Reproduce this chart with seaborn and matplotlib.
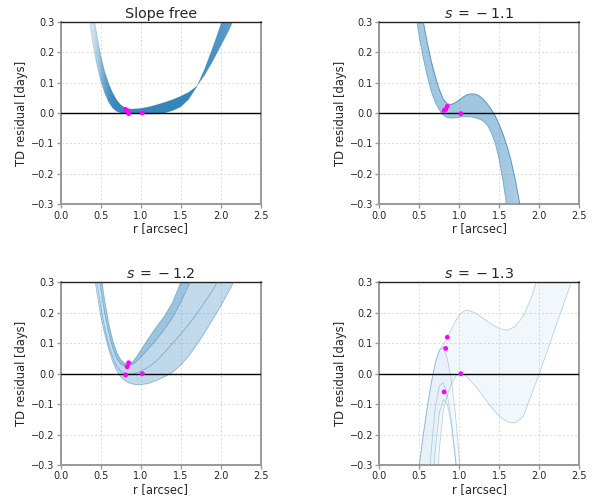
import numpy as np
import pandas as pd
import matplotlib
matplotlib.use("Agg")
import matplotlib.pyplot as plt
from matplotlib.colors import to_rgb
import seaborn as sns

# ---------------- data ----------------
titles = ["Slope free", r"$s\:=\:-\;1.1$", r"$s\:=\:-\;1.2$", r"$s\:=\:-\;1.3$"]
x_ticks = [0.0, 0.5, 1.0, 1.5, 2.0, 2.5]
y_ticks = [-0.3, -0.2, -0.1, 0.0, 0.1, 0.2, 0.3]

# image radii and their TD residuals (magenta points)
img_r = [0.81, 0.83, 0.85, 1.02]
res_free = [0.012, 0.008, -0.002, 0.0]
res_11 = [0.008, 0.012, 0.022, -0.002]
res_12 = [-0.004, 0.023, 0.036, 0.0]
res_13 = [-0.06, 0.083, 0.12, 0.0]

# panel 1: slope free - band edges
r_free = [0.35, 0.4, 0.45, 0.5, 0.55, 0.6, 0.65, 0.7, 0.75, 0.8, 0.85, 0.9, 1.0,
          1.1, 1.2, 1.3, 1.4, 1.5, 1.6, 1.7, 1.8, 1.9, 2.0, 2.1, 2.2]
free_lo = [0.32, 0.23, 0.16, 0.105, 0.065, 0.035, 0.016, 0.005, 0.0, -0.002,
           -0.003, -0.003, -0.003, -0.003, -0.003, 0.0, 0.008, 0.02, 0.045, 0.086,
           0.145, 0.215, 0.29, 0.38, 0.48]
free_hi = [0.45, 0.34, 0.26, 0.19, 0.137, 0.097, 0.066, 0.043, 0.027, 0.018,
           0.014, 0.013, 0.015, 0.02, 0.027, 0.035, 0.044, 0.055, 0.068, 0.088,
           0.125, 0.17, 0.22, 0.27, 0.33]

# panel 2: s = -1.1
r_11 = [0.4, 0.45, 0.5, 0.55, 0.6, 0.65, 0.7, 0.75, 0.8, 0.85, 0.9, 0.95, 1.0,
        1.05, 1.1, 1.15, 1.2, 1.25, 1.3, 1.35, 1.4, 1.45, 1.5, 1.55, 1.6, 1.65,
        1.7, 1.75, 1.8]
s11_hi = [0.55, 0.47, 0.39, 0.30, 0.23, 0.17, 0.12, 0.077, 0.045, 0.03, 0.028,
          0.034, 0.043, 0.053, 0.06, 0.063, 0.062, 0.056, 0.045, 0.03, 0.012,
          -0.01, -0.038, -0.072, -0.112, -0.16, -0.22, -0.29, -0.37]
s11_lo = [0.40, 0.33, 0.25, 0.18, 0.12, 0.07, 0.035, 0.01, -0.007, -0.015, -0.017,
          -0.016, -0.014, -0.012, -0.012, -0.013, -0.016, -0.02, -0.027, -0.04,
          -0.065, -0.1, -0.155, -0.23, -0.32, -0.43, -0.55, -0.7, -0.85]

# panel 3: s = -1.2
r_12 = [0.35, 0.4, 0.45, 0.5, 0.55, 0.6, 0.65, 0.7, 0.75, 0.8, 0.85, 0.9, 0.95,
        1.0, 1.1, 1.2, 1.3, 1.4, 1.5, 1.6, 1.7, 1.8, 1.9, 2.0, 2.1, 2.2]
s12_a = [0.75, 0.6, 0.45, 0.33, 0.24, 0.165, 0.11, 0.07, 0.046, 0.034, 0.031,
         0.039, 0.056, 0.077, 0.117, 0.155, 0.19, 0.235, 0.30, 0.37, 0.45, 0.53,
         0.62, 0.72, 0.82, 0.93]
s12_c = [0.65, 0.5, 0.38, 0.28, 0.2, 0.135, 0.085, 0.05, 0.032, 0.026, 0.026,
         0.031, 0.041, 0.054, 0.083, 0.113, 0.147, 0.185, 0.235, 0.29, 0.35, 0.42,
         0.50, 0.58, 0.67, 0.77]
s12_d = [0.55, 0.42, 0.31, 0.22, 0.15, 0.095, 0.055, 0.025, 0.008, 0.0, -0.002,
         -0.001, 0.003, 0.008, 0.022, 0.043, 0.07, 0.10, 0.13, 0.162, 0.197, 0.235,
         0.275, 0.32, 0.37, 0.42]
s12_b = [0.5, 0.37, 0.27, 0.19, 0.13, 0.08, 0.04, 0.01, -0.01, -0.022, -0.03,
         -0.034, -0.036, -0.036, -0.032, -0.022, -0.01, 0.005, 0.028, 0.058, 0.095,
         0.135, 0.178, 0.222, 0.27, 0.32]

# panel 4: s = -1.3
r_13 = [0.5, 0.55, 0.6, 0.65, 0.7, 0.75, 0.8, 0.85, 0.9, 0.95, 1.0, 1.05, 1.1, 1.2,
        1.3, 1.4, 1.5, 1.6, 1.7, 1.8, 1.9, 2.0, 2.1, 2.2, 2.3, 2.4, 2.5]
s13_up = [-0.3, -0.2, -0.11, -0.03, 0.035, 0.075, 0.095, 0.118, 0.145, 0.172,
          0.193, 0.205, 0.209, 0.2, 0.182, 0.163, 0.148, 0.143, 0.155, 0.19, 0.25,
          0.33, 0.42, 0.52, 0.63, 0.75, 0.88]
s13_lo = [-1.2, -1.0, -0.85, -0.7, -0.45, -0.25, -0.12, -0.07, -0.035, -0.01, 0.0,
          -0.003, -0.012, -0.04, -0.075, -0.11, -0.14, -0.158, -0.162, -0.14, -0.07,
          0.0, 0.075, 0.15, 0.225, 0.30, 0.375]
s13_p1 = [-0.3, -0.2, -0.11, -0.03, 0.035, 0.078, 0.087, 0.05, -0.02, -0.13, -0.28,
          -0.45, -0.65, -1.0, -1.4, -1.8, -2.2, -2.6, -3.0, -3.4, -3.8, -4.2, -4.6,
          -5.0, -5.4, -5.8, -6.2]
s13_p2 = [-0.8, -0.62, -0.42, -0.25, -0.11, -0.04, -0.03, -0.07, -0.15, -0.27,
          -0.42, -0.6, -0.8, -1.2, -1.6, -2.0, -2.4, -2.8, -3.2, -3.6, -4.0, -4.4,
          -4.8, -5.2, -5.6, -6.0, -6.4]
s13_p3 = [-1.0, -0.8, -0.6, -0.42, -0.25, -0.13, -0.085, -0.1, -0.17, -0.28, -0.4,
          -0.55, -0.75, -1.1, -1.5, -1.9, -2.3, -2.7, -3.1, -3.5, -3.9, -4.3, -4.7,
          -5.1, -5.5, -5.9, -6.3]

# ---------------- styling ----------------
sns.set_style("white")
plt.rcParams["font.family"] = ["DejaVu Sans"]
plt.rcParams["font.size"] = 8.3
plt.rcParams["mathtext.fontset"] = "dejavusans"

BLUE = "#1f77b4"
fig = plt.figure(figsize=(6.06, 5.0), dpi=100)

W, H = 200 / 606, 182.6 / 500
positions = [(60.7 / 606, 1 - 204.3 / 500), (379.3 / 606, 1 - 204.3 / 500),
             (60.7 / 606, 1 - 465 / 500), (379.3 / 606, 1 - 465 / 500)]
axes = [fig.add_axes([x0, y0, W, H]) for (x0, y0) in positions]


def style_axis(ax, title):
    ax.set_xlim(0, 2.5)
    ax.set_ylim(-0.3, 0.3)
    ax.set_xticks(x_ticks)
    ax.set_yticks(y_ticks)
    ax.grid(True, color="#d8d8d8", linestyle=(0, (2.5, 2.5)), linewidth=0.6)
    ax.set_axisbelow(True)
    for side in ["left", "bottom", "right"]:
        ax.spines[side].set_color("#999999")
        ax.spines[side].set_linewidth(1.4)
    ax.spines["top"].set_color("#222222")
    ax.spines["top"].set_linewidth(1.0)
    ax.tick_params(axis="both", which="major", direction="out", length=3,
                   width=1, color="#999999", labelsize=7, pad=1.5,
                   bottom=True, left=True)
    ax.set_xlabel("r [arcsec]", fontsize=8.3, labelpad=1)
    ax.set_ylabel("TD residual [days]", fontsize=8.3, labelpad=2)
    ax.set_title(title, fontsize=10.3, pad=3)
    ax.axhline(0, color="black", linewidth=1.0, zorder=4)


def grad_band(ax, r, a, b, amax, s0):
    """Band between two read curves; shading fades where the band is steep
    (as the sparse point clouds do in the reference)."""
    r = np.asarray(r, float)
    a = np.asarray(a, float)
    b = np.asarray(b, float)
    poly = ax.fill_between(r, a, b, facecolor="none", linewidth=0)
    slope = np.gradient((a + b) / 2.0, r)
    xs = np.linspace(r.min(), r.max(), 600)
    sl = np.interp(xs, r, slope)
    alpha = amax / (1.0 + (np.abs(sl) / s0) ** 3)
    img = np.zeros((2, xs.size, 4))
    img[..., :3] = to_rgb(BLUE)
    img[..., 3] = alpha
    im = ax.imshow(img, extent=[r.min(), r.max(), -20, 20], aspect="auto",
                   origin="lower", interpolation="bilinear", zorder=2)
    im.set_clip_path(poly.get_paths()[0], transform=ax.transData)


def band(ax, r, a, b, alpha):
    ax.fill_between(r, a, b, color=BLUE, alpha=alpha, linewidth=0, zorder=2)


def curve(ax, r, y, alpha, lw=0.7):
    sns.lineplot(x=r, y=y, ax=ax, color=BLUE, alpha=alpha, linewidth=lw,
                 estimator=None, sort=False, zorder=3)


def magenta(ax, ys):
    sns.scatterplot(x=img_r, y=ys, ax=ax, color="magenta", s=12,
                    edgecolor="none", zorder=6)


# panel 1
ax = axes[0]
grad_band(ax, r_free, free_lo, free_hi, 0.9, 1.2)
curve(ax, r_free, free_lo, 0.25, 0.5)
curve(ax, r_free, free_hi, 0.25, 0.5)
magenta(ax, res_free)

# panel 2
ax = axes[1]
grad_band(ax, r_11, s11_lo, s11_hi, 0.42, 4.0)
curve(ax, r_11, s11_lo, 0.5, 0.6)
curve(ax, r_11, s11_hi, 0.7, 0.7)
magenta(ax, res_11)

# panel 3
ax = axes[2]
grad_band(ax, r_12, s12_a, s12_b, 0.28, 2.5)
grad_band(ax, r_12, s12_a, s12_c, 0.22, 2.5)
for yy in (s12_a, s12_c, s12_d, s12_b):
    curve(ax, r_12, yy, 0.45, 0.6)
magenta(ax, res_12)

# panel 4
ax = axes[3]
band(ax, r_13, s13_up, s13_lo, 0.06)
band(ax, r_13, s13_p1, s13_p3, 0.04)
for yy in (s13_up, s13_lo, s13_p1, s13_p2, s13_p3):
    curve(ax, r_13, yy, 0.3, 0.6)
magenta(ax, res_13)

for ax, t in zip(axes, titles):
    style_axis(ax, t)
    if ax.get_legend() is not None:
        ax.get_legend().remove()

fig.savefig("out.png", dpi=100)
